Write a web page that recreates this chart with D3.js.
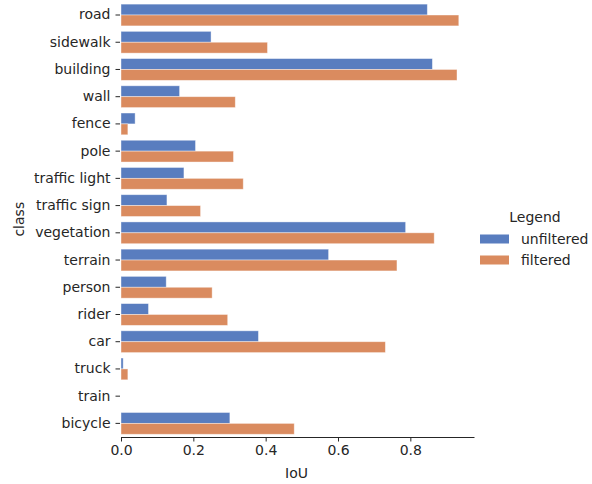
<!DOCTYPE html>
<html>
<head>
<meta charset="utf-8">
<script src="https://cdn.jsdelivr.net/npm/d3@7"></script>
<style>
  body { margin: 0; background: #fff; }
  svg { display: block; font-family: "DejaVu Sans", sans-serif; }
</style>
</head>
<body>
<svg id="chart" width="592" height="484"></svg>
<script>
const categories = ["road","sidewalk","building","wall","fence","pole","traffic light","traffic sign","vegetation","terrain","person","rider","car","truck","train","bicycle"];
const seriesNames = ["unfiltered","filtered"];
const unfiltered = [0.847,0.249,0.861,0.162,0.039,0.206,0.174,0.127,0.787,0.574,0.125,0.076,0.380,0.006,0.0,0.301];
const filtered   = [0.934,0.405,0.929,0.316,0.019,0.311,0.338,0.220,0.866,0.763,0.252,0.295,0.731,0.019,0.0,0.479];
const xTicks = [0.0,0.2,0.4,0.6,0.8];
const colors = ["#597dbf","#da8b5f"];

const svg = d3.select("#chart");
const mLeft = 121, mRight = 474, mTop = 1.4, mBottom = 437;
const xMax = d3.max(filtered.concat(unfiltered)) * 1.045;
const x = d3.scaleLinear().domain([0, xMax]).range([mLeft, mRight]);
const y = d3.scaleBand().domain(categories).range([mTop, mBottom]).paddingInner(0.2).paddingOuter(0.1);
const ySub = d3.scaleBand().domain(seriesNames).range([0, y.bandwidth()]);

const data = [unfiltered, filtered];
const textColor = "#262626";
const fs = 14;

// bars
seriesNames.forEach((s, si) => {
  svg.append("g").selectAll("rect")
    .data(categories.map((c, i) => ({c, v: data[si][i]})))
    .join("rect")
    .attr("x", x(0))
    .attr("y", d => y(d.c) + ySub(s))
    .attr("width", d => Math.max(0, x(d.v) - x(0)))
    .attr("height", ySub.bandwidth())
    .attr("fill", colors[si])
    .attr("stroke", "#ffffff")
    .attr("stroke-opacity", 0.5)
    .attr("stroke-width", 0.8);
});

// y axis (no spine)
const yAxis = svg.append("g")
  .attr("transform", `translate(${mLeft - 1},0)`)
  .call(d3.axisLeft(y).tickSizeInner(4.5).tickSizeOuter(0).tickPadding(5));
yAxis.select(".domain").remove();
yAxis.selectAll(".tick line").attr("stroke", textColor).attr("stroke-width", 1);
yAxis.selectAll(".tick text").attr("font-size", fs).attr("fill", textColor).attr("font-family", "DejaVu Sans");

// x axis
const xAxis = svg.append("g")
  .attr("transform", `translate(0,${mBottom})`)
  .call(d3.axisBottom(x).tickValues(xTicks).tickFormat(d3.format(".1f")).tickSizeInner(4.5).tickSizeOuter(0).tickPadding(4));
xAxis.select(".domain").attr("stroke", textColor).attr("stroke-width", 1);
xAxis.selectAll(".tick line").attr("stroke", textColor);
xAxis.selectAll(".tick text").attr("font-size", fs).attr("fill", textColor).attr("font-family", "DejaVu Sans");

// axis labels
svg.append("text").attr("x", (mLeft + mRight) / 2 - 1).attr("y", 478)
  .attr("text-anchor", "middle").attr("font-size", fs).attr("fill", textColor).text("IoU");
svg.append("text").attr("transform", `translate(24,${(mTop + mBottom) / 2}) rotate(-90)`)
  .attr("text-anchor", "middle").attr("font-size", fs).attr("fill", textColor).text("class");

// legend
const lg = svg.append("g");
lg.append("text").attr("x", 535).attr("y", 222).attr("text-anchor", "middle")
  .attr("font-size", fs).attr("fill", textColor).text("Legend");
seriesNames.forEach((s, i) => {
  const cy = 239 + i * 21;
  lg.append("rect").attr("x", 480).attr("y", cy - 4.5).attr("width", 29).attr("height", 9).attr("fill", colors[i]);
  lg.append("text").attr("x", 521).attr("y", cy + 5).attr("font-size", fs).attr("fill", textColor).text(s);
});
</script>
</body>
</html>
